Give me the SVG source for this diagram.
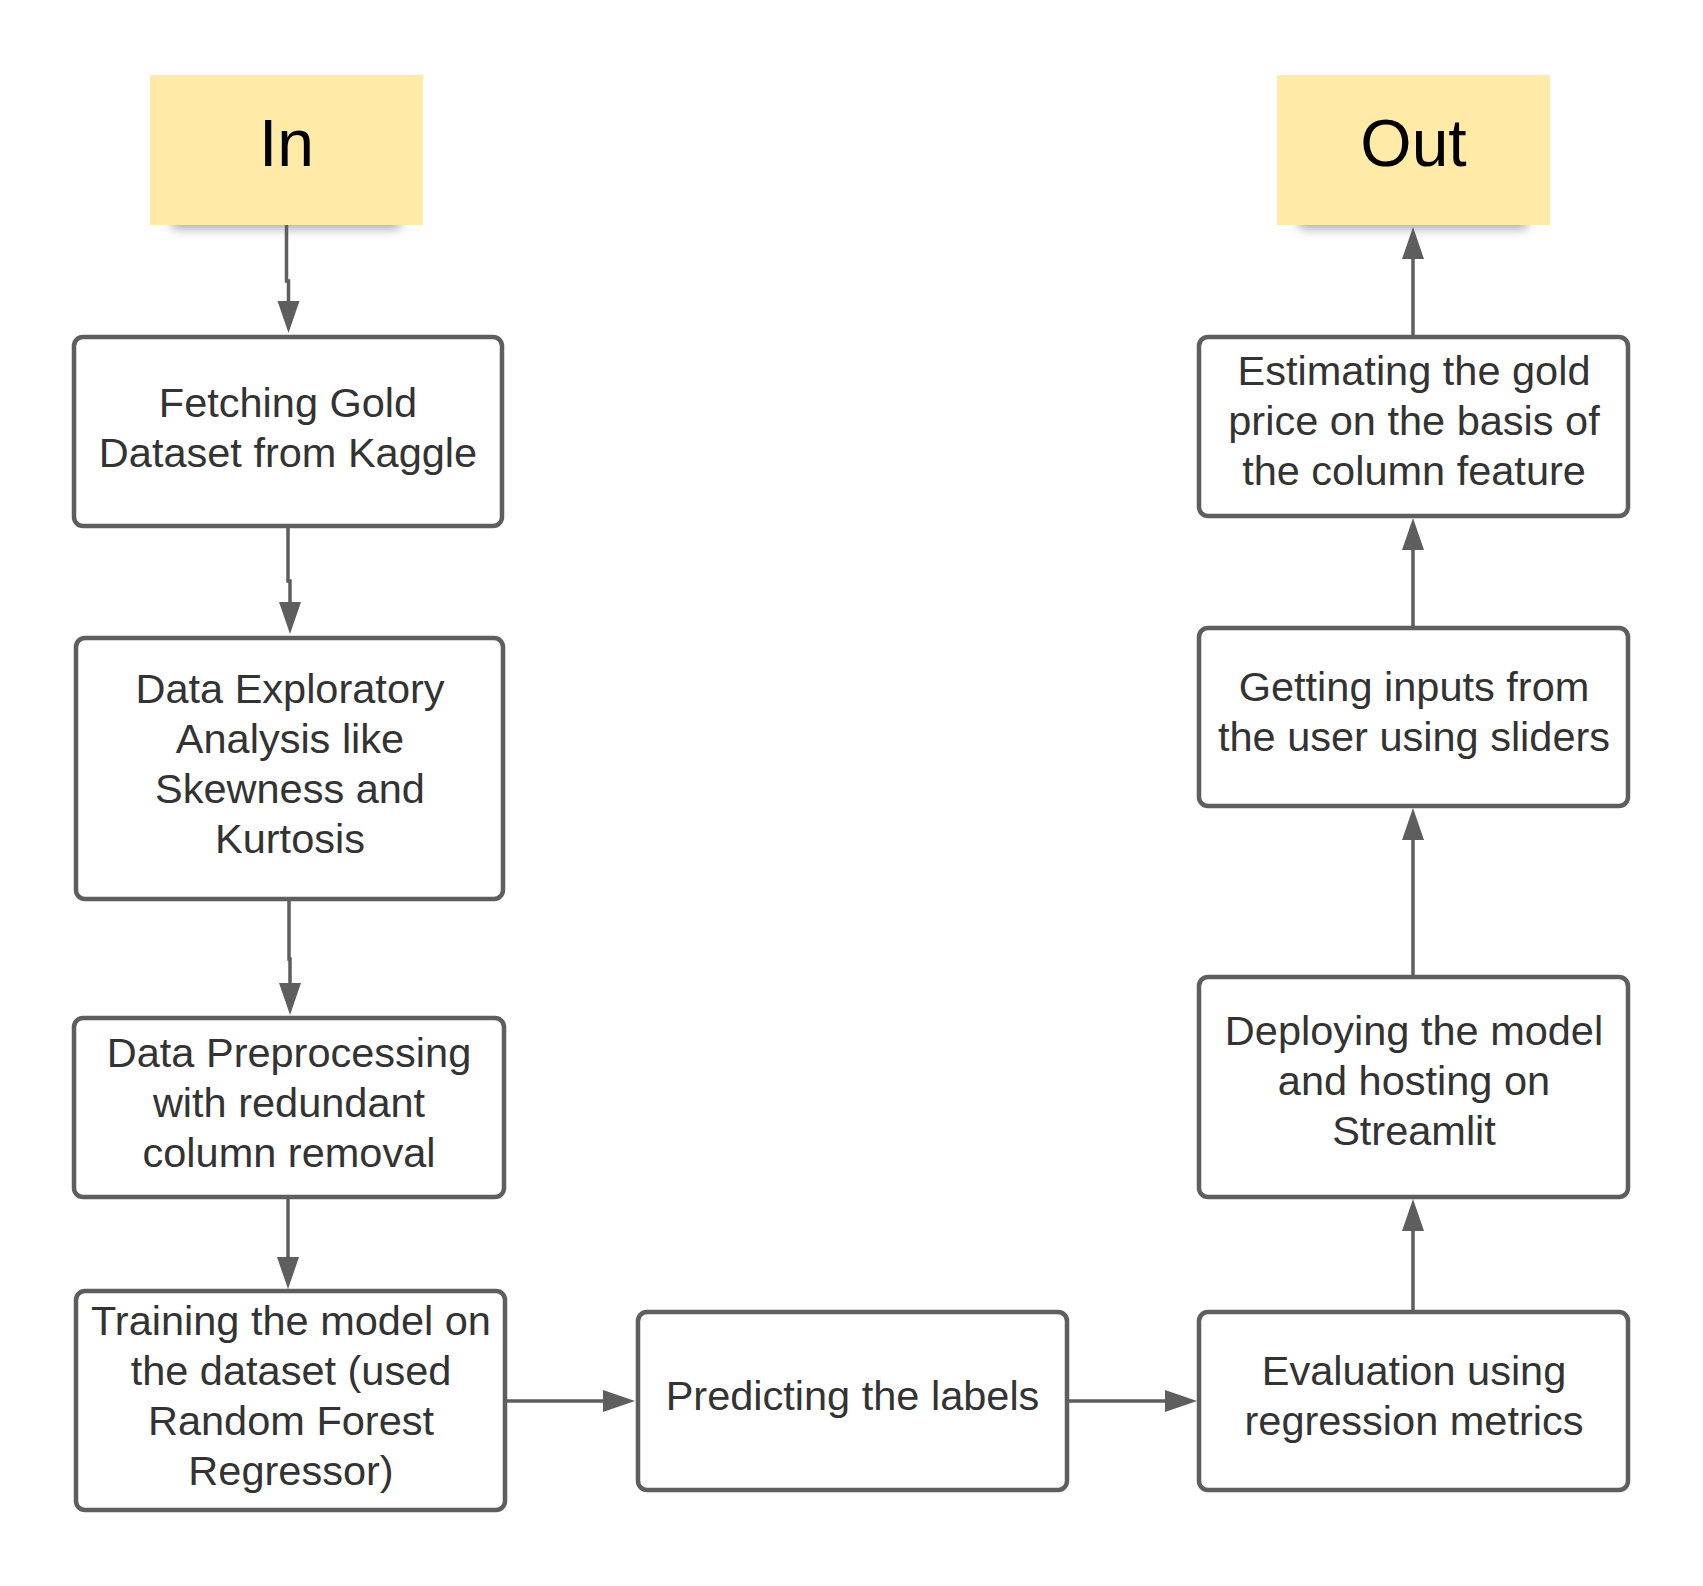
<svg xmlns="http://www.w3.org/2000/svg" width="1703" height="1586" viewBox="0 0 1703 1586">
<defs>
<filter id="blur" x="-20%" y="-100%" width="140%" height="300%"><feGaussianBlur stdDeviation="6"/></filter>
<marker id="arr" markerUnits="userSpaceOnUse" markerWidth="34" markerHeight="24" refX="0" refY="11" orient="auto"><path d="M0,0 L32,11 L0,22 z" fill="#5e5e5e"/></marker>
</defs>
<style>
.box{fill:#fff;stroke:#5e5e5e;stroke-width:4.5}
.note{fill:#ffeaa7}
.shadow{fill:#000;opacity:0.38}
.t{font-family:"Liberation Sans",Arial,sans-serif;font-size:41.5px;fill:#333;text-anchor:middle}
.big{font-family:"Liberation Sans",Arial,sans-serif;font-size:66px;fill:#000;text-anchor:middle}
.c{fill:none;stroke:#5e5e5e;stroke-width:3.5;marker-end:url(#arr)}
</style>
<rect width="1703" height="1586" fill="#fff"/>
<g id="in">
<rect class="shadow" x="172" y="212" width="228" height="16" filter="url(#blur)"/>
<rect class="note" x="150" y="75" width="273" height="150"/>
<text class="big" x="286.5" y="166">In</text>
</g>
<g id="out">
<rect class="shadow" x="1299" y="212" width="228" height="16" filter="url(#blur)"/>
<rect class="note" x="1277" y="75" width="273" height="150"/>
<text class="big" x="1413.5" y="166">Out</text>
</g>
<g id="fetch">
<rect class="box" x="74" y="337" width="428" height="189" rx="9"/>
<text class="t" x="288" y="417">Fetching Gold</text>
<text class="t" x="288" y="467">Dataset from Kaggle</text>
</g>
<g id="explore">
<rect class="box" x="76" y="638" width="427" height="261" rx="9"/>
<text class="t" x="290" y="702.5">Data Exploratory</text>
<text class="t" x="290" y="752.5">Analysis like</text>
<text class="t" x="290" y="802.5">Skewness and</text>
<text class="t" x="290" y="852.5">Kurtosis</text>
</g>
<g id="preprocess">
<rect class="box" x="74" y="1018" width="430" height="179" rx="9"/>
<text class="t" x="289" y="1066.5">Data Preprocessing</text>
<text class="t" x="289" y="1116.5">with redundant</text>
<text class="t" x="289" y="1166.5">column removal</text>
</g>
<g id="train">
<rect class="box" x="76" y="1291" width="429" height="219" rx="9"/>
<text class="t" x="291" y="1334.5">Training the model on</text>
<text class="t" x="291" y="1384.5">the dataset (used</text>
<text class="t" x="291" y="1434.5">Random Forest</text>
<text class="t" x="291" y="1484.5">Regressor)</text>
</g>
<g id="predict">
<rect class="box" x="638" y="1312" width="429" height="178" rx="9"/>
<text class="t" x="852.5" y="1409.5">Predicting the labels</text>
</g>
<g id="evaluate">
<rect class="box" x="1199" y="1312" width="429" height="178" rx="9"/>
<text class="t" x="1414" y="1384.5">Evaluation using</text>
<text class="t" x="1414" y="1434.5">regression metrics</text>
</g>
<g id="deploy">
<rect class="box" x="1199" y="977" width="429" height="220" rx="9"/>
<text class="t" x="1414" y="1044.5">Deploying the model</text>
<text class="t" x="1414" y="1094.5">and hosting on</text>
<text class="t" x="1414" y="1144.5">Streamlit</text>
</g>
<g id="inputs">
<rect class="box" x="1199" y="628" width="429" height="178" rx="9"/>
<text class="t" x="1414" y="700.5">Getting inputs from</text>
<text class="t" x="1414" y="750.5">the user using sliders</text>
</g>
<g id="estimate">
<rect class="box" x="1199" y="337" width="429" height="179" rx="9"/>
<text class="t" x="1414" y="384.5">Estimating the gold</text>
<text class="t" x="1414" y="434.5">price on the basis of</text>
<text class="t" x="1414" y="484.5">the column feature</text>
</g>
<g id="connectors">
<path class="c" d="M286.5,225 V281 H288.5 V301"/>
<path class="c" d="M288,528 V581 H290 V602"/>
<path class="c" d="M289,901 V959 H290 V983"/>
<path class="c" d="M288,1199 V1257"/>
<path class="c" d="M507,1401 H603"/>
<path class="c" d="M1069,1401 H1165"/>
<path class="c" d="M1413,1310 V1231"/>
<path class="c" d="M1413,975 V840"/>
<path class="c" d="M1413,626 V550"/>
<path class="c" d="M1413,335 V259"/>
</g>
</svg>
